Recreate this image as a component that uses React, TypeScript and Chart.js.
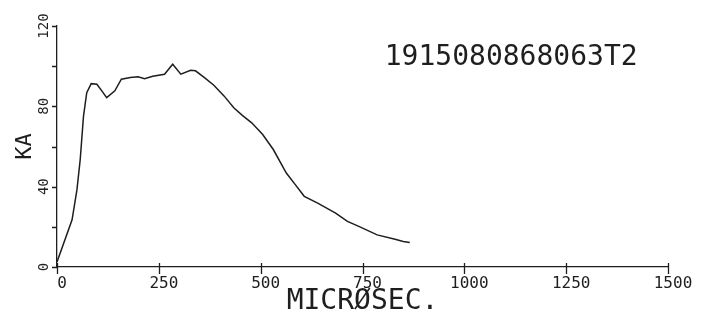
import React, { useEffect, useRef } from "react";
import { Chart, registerables } from "chart.js";

Chart.register(...registerables);

// Time axis (microseconds) and current (kA)
const timeUs = [0, 37, 49, 57, 65, 73, 84, 98, 110, 122, 142, 158, 180, 199, 215, 235, 264, 284, 304, 328, 340, 362, 385, 410, 434, 455, 478, 505, 531, 563, 585, 607, 640, 684, 713, 741, 786, 830, 850, 866];
const currentKA = [2.5, 23.5, 38.5, 53.5, 75, 86.8, 91.3, 91, 87.7, 84.3, 87.7, 93.5, 94.3, 94.7, 93.8, 95, 96, 101, 96, 98, 97.7, 94.3, 90.5, 85.2, 79.3, 75.5, 71.8, 66, 58.5, 46.8, 41, 35.2, 31.8, 26.8, 22.7, 20.2, 16, 13.8, 12.7, 12.2];

const xMin = 0;
const xMax = 1500;
const xStep = 250;
const yMin = 0;
const yMax = 120;
const yStep = 20;
const yLabelEvery = 40;

const chartTitle = "1915080868063T2";
const titleAnchor = [1115, 104]; // in data units (µs, kA)
const xTitle = "MICRØSEC.";
const yTitle = "KA";

const INK = "#1e1e1e";
const FAMILY = "'DejaVu Sans Mono', monospace";

export default function App() {
  const ref = useRef<HTMLCanvasElement | null>(null);

  useEffect(() => {
    const canvas = ref.current;
    if (!canvas) return;

    const plotterPlugin = {
      id: "plotterMarks",
      afterDraw(chart: any) {
        const { ctx } = chart;
        const xs = chart.scales.x;
        const ys = chart.scales.y;
        ctx.save();
        ctx.strokeStyle = INK;
        ctx.lineWidth = 1.3;
        ctx.beginPath();
        ys.ticks.forEach((t: any) => {
          const py = Math.round(ys.getPixelForValue(t.value)) + 0.5;
          ctx.moveTo(xs.left - 5, py);
          ctx.lineTo(xs.left, py);
        });
        xs.ticks.forEach((t: any) => {
          const px = Math.round(xs.getPixelForValue(t.value)) + 0.5;
          ctx.moveTo(px, ys.bottom - 4);
          ctx.lineTo(px, ys.bottom + 7);
        });
        ctx.stroke();
        ctx.fillStyle = INK;
        ctx.font = `28px ${FAMILY}`;
        ctx.textAlign = "center";
        ctx.textBaseline = "middle";
        ctx.fillText(
          chartTitle,
          xs.getPixelForValue(titleAnchor[0]),
          ys.getPixelForValue(titleAnchor[1])
        );
        ctx.restore();
      },
    };

    const chart = new Chart(canvas, {
      type: "line",
      data: {
        datasets: [
          {
            data: timeUs.map((t, i) => ({ x: t, y: currentKA[i] })),
            borderColor: INK,
            borderWidth: 1.5,
            pointRadius: 0,
            tension: 0,
            fill: false,
          },
        ],
      },
      options: {
        responsive: false,
        animation: false,
        devicePixelRatio: 1,
        layout: { padding: { top: 26, right: 39, left: 0, bottom: 0 } },
        plugins: {
          legend: { display: false },
          tooltip: { enabled: false },
          title: { display: false },
        },
        scales: {
          x: {
            type: "linear",
            min: xMin,
            max: xMax,
            ticks: {
              stepSize: xStep,
              autoSkip: false,
              maxRotation: 0,
              minRotation: 0,
              padding: 7,
              labelOffset: 5,
              color: INK,
              font: { family: FAMILY, size: 16 },
              callback: (v: any) => String(v),
            },
            grid: { display: false, drawTicks: false },
            border: { display: true, color: INK, width: 1.3 },
            title: {
              display: true,
              text: xTitle,
              color: INK,
              font: { family: FAMILY, size: 28, lineHeight: 1 },
              padding: { top: 0, bottom: 4 },
            },
            afterFit: (s: any) => {
              s.height = 53;
            },
          },
          y: {
            type: "linear",
            min: yMin,
            max: yMax,
            ticks: {
              stepSize: yStep,
              autoSkip: false,
              minRotation: 90,
              maxRotation: 90,
              crossAlign: "center",
              padding: 0,
              color: INK,
              font: { family: FAMILY, size: 14 },
              callback: (v: any) => (Number(v) % yLabelEvery === 0 ? String(v) : ""),
            },
            grid: { display: false, drawTicks: false },
            border: { display: true, color: INK, width: 1.3 },
            title: {
              display: true,
              text: yTitle,
              color: INK,
              font: { family: FAMILY, size: 22, lineHeight: 1 },
              padding: { top: 14, bottom: 0 },
            },
            afterFit: (s: any) => {
              s.width = 57;
            },
          },
        },
      },
      plugins: [plotterPlugin],
    } as any);

    return () => chart.destroy();
  }, []);

  return (
    <div style={{ position: "fixed", left: 0, top: 0, width: 707, height: 320, background: "#fff" }}>
      <canvas ref={ref} width={707} height={320} style={{ width: 707, height: 320, display: "block" }} />
    </div>
  );
}
